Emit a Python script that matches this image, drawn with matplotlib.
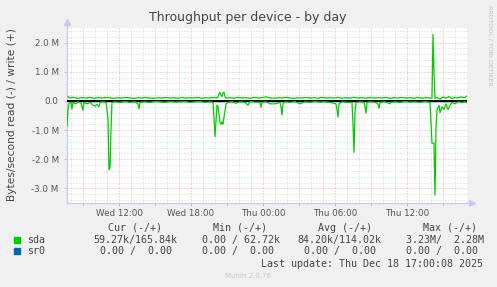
import matplotlib
matplotlib.use('Agg')
import matplotlib.pyplot as plt
from matplotlib.patches import Rectangle
from matplotlib.ticker import MultipleLocator, FixedLocator, FixedFormatter

W, H = 497, 287

# samples: index of 5-minute step after Wed 07:40, values in MB/s
read_steps = [0, 1, 2, 4, 5, 6, 9, 11, 14, 16, 17, 20, 23, 26, 28, 30, 32, 33, 36, 39,
              41, 42, 43, 44, 45, 48, 53, 58, 63, 68, 71, 72, 73, 78, 83, 88, 93, 98, 103, 108,
              113, 118, 123, 128, 133, 138, 143, 146, 147, 148, 149, 150, 151, 152, 153, 154, 155, 156, 157, 158,
              159, 161, 165, 169, 173, 178, 181, 183, 188, 193, 194, 195, 199, 203, 208, 213, 214, 215, 216, 218,
              223, 228, 233, 238, 243, 248, 253, 258, 263, 269, 270, 271, 272, 275, 280, 285, 286, 287, 288, 289,
              293, 297, 298, 299, 300, 303, 308, 311, 312, 313, 318, 323, 324, 328, 333, 338, 343, 348, 353, 358,
              363, 365, 367, 368, 369, 370, 372, 373, 375, 377, 379, 381, 383, 385, 388, 391, 395, 398, 400]
read_vals = [0.85, 0.30, 0.10, 0.05, 0.28, 0.05, 0.10, 0.03, 0.08, 0.32, 0.05, 0.10, 0.05, 0.15, 0.18, 0.12, 0.20, 0.05, 0.03, 0.05,
             0.60, 2.35, 2.30, 1.00, 0.05, 0.03, 0.05, 0.02, 0.05, 0.03, 0.10, 0.27, 0.05, 0.03, 0.05, 0.02, 0.03, 0.05, 0.02, 0.04,
             0.03, 0.02, 0.05, 0.03, 0.02, 0.05, 0.03, 0.05, 0.60, 1.22, 0.70, 0.15, 0.20, 0.45, 0.75, 0.80, 0.72, 0.80, 0.55, 0.35,
             0.10, 0.05, 0.03, 0.08, 0.03, 0.05, 0.15, 0.02, 0.04, 0.05, 0.22, 0.05, 0.03, 0.10, 0.10, 0.05, 0.20, 0.48, 0.10, 0.03,
             0.05, 0.02, 0.10, 0.03, 0.05, 0.02, 0.04, 0.03, 0.05, 0.10, 0.30, 0.55, 0.10, 0.03, 0.05, 0.05, 0.80, 1.77, 0.40, 0.05,
             0.03, 0.05, 0.20, 0.42, 0.05, 0.03, 0.05, 0.10, 0.25, 0.05, 0.03, 0.10, 0.05, 0.03, 0.05, 0.02, 0.04, 0.03, 0.05, 0.02,
             0.05, 1.45, 1.45, 3.23, 0.90, 0.30, 0.15, 0.40, 0.20, 0.30, 0.10, 0.30, 0.15, 0.05, 0.10, 0.03, 0.05, 0.03, 0.06]

write_steps = [0] + list(range(3, 148, 4)) + [150, 151, 152, 153, 154, 155, 156, 157, 158, 159] \
    + list(range(163, 364, 4)) + [365, 366, 367, 368, 370, 373, 376, 379, 382, 385, 388, 391, 394, 397, 400]
write_vals = [0.16,
              0.10, 0.12, 0.09, 0.11, 0.10, 0.12, 0.09, 0.11, 0.10, 0.12, 0.10, 0.09, 0.11, 0.10, 0.12, 0.10, 0.09, 0.11, 0.10,
              0.12, 0.10, 0.09, 0.11, 0.10, 0.12, 0.10, 0.11, 0.09, 0.12, 0.10, 0.11, 0.10, 0.12, 0.09, 0.11, 0.10, 0.12,
              0.10, 0.12, 0.25, 0.30, 0.18, 0.15, 0.28, 0.30, 0.15, 0.10,
              0.11, 0.09, 0.12, 0.10, 0.11, 0.09, 0.12, 0.10, 0.11, 0.14, 0.10, 0.09, 0.11, 0.10, 0.12, 0.10, 0.09, 0.11, 0.10, 0.12,
              0.10, 0.11, 0.09, 0.12, 0.10, 0.11, 0.10, 0.12, 0.09, 0.11, 0.10, 0.12, 0.10, 0.11, 0.09, 0.12, 0.10, 0.11, 0.10, 0.12,
              0.09, 0.11, 0.10, 0.12, 0.10, 0.11, 0.09, 0.12, 0.10, 0.11, 0.10,
              0.10, 2.28, 1.00, 0.08, 0.12, 0.06, 0.14, 0.09, 0.15, 0.08, 0.12, 0.10, 0.14, 0.11, 0.166]

sr0_steps = [0, 400]
sr0_vals = [0.0, 0.0]

tick_hours = [12, 18, 24, 30, 36]
tick_labels = ['Wed 12:00', 'Wed 18:00', 'Thu 00:00', 'Thu 06:00', 'Thu 12:00']
ytick_vals = [-3, -2, -1, 0, 1, 2]
ytick_labels = ['-3.0 M', '-2.0 M', '-1.0 M', '0.0', '1.0 M', '2.0 M']

legend_rows = [
    ('sda', '#00cc00', ['59.27k/165.84k', '0.00 / 62.72k', '84.20k/114.02k', '3.23M/  2.28M']),
    ('sr0', '#0066b3', ['0.00 /  0.00', '0.00 /  0.00', '0.00 /  0.00', '0.00 /  0.00']),
]

start = 7 + 40 / 60.0


def hours(steps):
    return [start + s * 5 / 60.0 for s in steps]


fig = plt.figure(figsize=(W / 100, H / 100), dpi=100, facecolor='#f0f0f0')
ax = fig.add_axes([67 / W, 1 - 203 / H, 400 / W, 175 / H])
ax.set_facecolor('white')

ax.plot(hours(sr0_steps), [-v * 1e6 for v in sr0_vals], color='#0066b3', lw=1, zorder=2)
ax.plot(hours(sr0_steps), [v * 1e6 for v in sr0_vals], color='#0066b3', lw=1, zorder=2)
ax.axhline(0, color='black', lw=1.4, zorder=3)
ax.plot(hours(read_steps), [-v * 1e6 for v in read_vals], color='#00cc00', lw=0.9, zorder=4)
ax.plot(hours(write_steps), [v * 1e6 for v in write_vals], color='#00cc00', lw=0.9, zorder=4)

ax.set_xlim(start, 41)
ax.set_ylim(-3.5e6, 2.5e6)

# gridlines every hour, red ones every 3 hours, labels every 6 hours
ax.xaxis.set_major_locator(MultipleLocator(3))
ax.xaxis.set_minor_locator(MultipleLocator(1))
ax.xaxis.set_major_formatter(plt.NullFormatter())
ax.yaxis.set_major_locator(FixedLocator([v * 1e6 for v in ytick_vals]))
ax.yaxis.set_major_formatter(FixedFormatter(ytick_labels))
ax.yaxis.set_minor_locator(MultipleLocator(0.2e6))

ax.grid(which='major', color='#e8b0b0', lw=0.72, linestyle=(0, (1, 2)), zorder=1)
ax.grid(which='minor', color='#d4d4d4', lw=0.72, linestyle=(0, (1, 2)), zorder=1)
ax.set_axisbelow(True)
ax.tick_params(which='major', length=2, width=0.6, color='#d0b0b0', direction='out')
ax.tick_params(which='minor', length=0)
ax.tick_params(axis='y', labelsize=6.3, labelcolor='#555555', pad=4)

for s in ['top', 'right']:
    ax.spines[s].set_visible(False)
for s in ['left', 'bottom']:
    ax.spines[s].set_color('#c8c8f0')
    ax.spines[s].set_linewidth(0.9)
ax.plot([0, 0], [1.0, 1.03], color='#c8c8f0', lw=0.9, transform=ax.transAxes, clip_on=False)
ax.plot([0], [1.035], marker='^', ms=4, color='#c8c8f0', transform=ax.transAxes, clip_on=False)
ax.plot([1.0, 1.01], [0, 0], color='#c8c8f0', lw=0.9, transform=ax.transAxes, clip_on=False)
ax.plot([1.012], [0], marker='>', ms=4, color='#c8c8f0', transform=ax.transAxes, clip_on=False)

for h, lab in zip(tick_hours, tick_labels):
    ax.text(h, -3.7e6, lab, ha='center', va='top', fontsize=6.3, color='#555555')

fig.text(248 / W, 1 - 18 / H, 'Throughput per device - by day', ha='center', va='center',
         fontsize=9, color='#444444')
fig.text(12 / W, 1 - 115 / H, 'Bytes/second read (-) / write (+)', rotation=90,
         ha='center', va='center', fontsize=7.7, color='#444444')
fig.text(490 / W, 1 - 5 / H, 'RRDTOOL / TOBI OETIKER', rotation=270, ha='center', va='top',
         fontsize=4.5, color='#c0c0c0')

mono = dict(family='DejaVu Sans Mono', fontsize=7.2, color='#444444', va='center', ha='left')
headers = ['Cur (-/+)', 'Min (-/+)', 'Avg (-/+)', 'Max (-/+)']
header_x = [107.7, 212.7, 318.3, 422.7]
for x, t in zip(header_x, headers):
    fig.text(x / W, 1 - 227.7 / H, t, **mono)

col_x = [[93.3, 201.7, 297.7, 406.0], [99.7, 201.7, 304.0, 406.0]]
row_y = [239.7, 251.3]
for (name, color, vals), xs, y in zip(legend_rows, col_x, row_y):
    fig.patches.append(Rectangle((14 / W, 1 - (y + 3) / H), 6 / W, 6 / H,
                                 transform=fig.transFigure, color=color, figure=fig))
    fig.text(26.7 / W, 1 - y / H, name, **mono)
    for x, v in zip(xs, vals):
        fig.text(x / W, 1 - y / H, v, **mono)

fig.text(261 / W, 1 - 263.7 / H, 'Last update: Thu Dec 18 17:00:08 2025', **mono)
fig.text(248 / W, 1 - 276 / H, 'Munin 2.0.76', ha='center', va='center', fontsize=5, color='#c8c8c8')

fig.savefig('out.png', dpi=100, facecolor=fig.get_facecolor())
